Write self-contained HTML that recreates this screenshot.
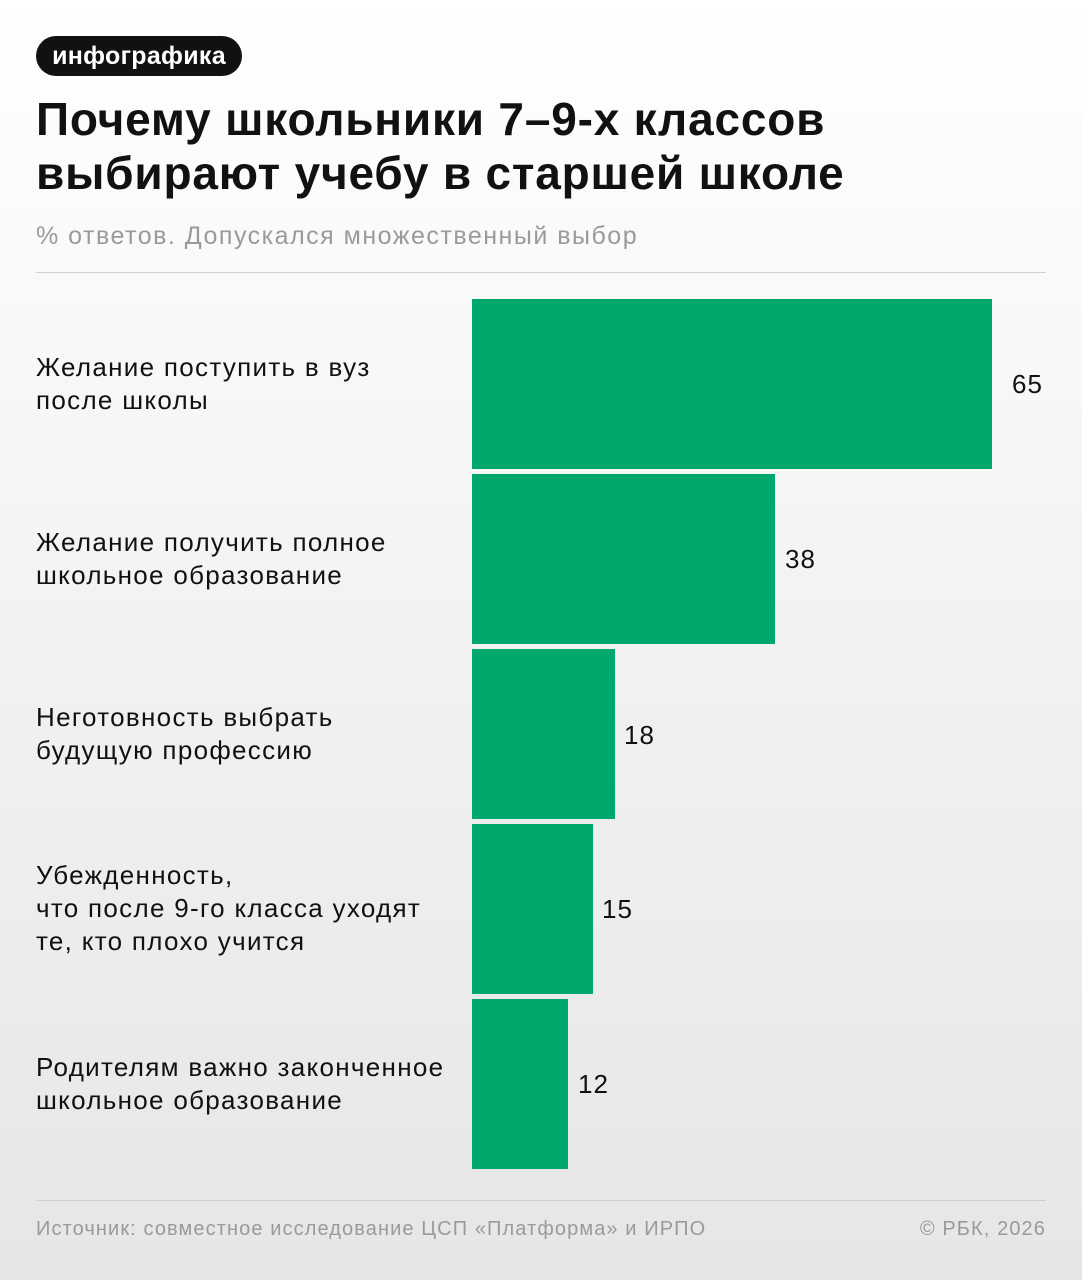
<!DOCTYPE html>
<html><head><meta charset="utf-8"><style>
body{margin:0;width:1082px;height:1280px;overflow:hidden;background:linear-gradient(#ffffff 0%,#f2f2f2 50%,#e6e6e6 100%);font-family:"Liberation Sans","DejaVu Sans",sans-serif;position:relative;color:#111}
.a{position:absolute;white-space:nowrap}
.badge{left:36px;top:36px;width:206px;height:40px;background:#111;border-radius:20px;color:#fff;font-size:25px;font-weight:bold;line-height:40px;text-align:center;letter-spacing:0.3px}
.title{left:36px;top:92px;font-size:46px;font-weight:bold;line-height:54px;letter-spacing:0.8px}
.sub{left:36px;top:222px;font-size:25px;color:#9a9a9a;letter-spacing:1.5px}
.line{left:36px;width:1010px;height:1px;background:#d0d0d0}
.bar{left:472px;height:170px;background:#00a86b}
.lab{left:36px;font-size:26px;line-height:33px;letter-spacing:1.3px}
.val{font-size:26px;line-height:30px;letter-spacing:1px}
.foot{top:1218px;font-size:20px;color:#9a9a9a;letter-spacing:1.1px}
</style></head><body>
<div class="a badge">инфографика</div>
<div class="a title">Почему школьники 7–9-х классов<br>выбирают учебу в старшей школе</div>
<div class="a sub">% ответов. Допускался множественный выбор</div>
<div class="a line" style="top:272px"></div>

<div class="a bar" style="top:299px;width:520px"></div>
<div class="a bar" style="top:474px;width:303px"></div>
<div class="a bar" style="top:649px;width:143px"></div>
<div class="a bar" style="top:824px;width:121px"></div>
<div class="a bar" style="top:999px;width:96px"></div>

<div class="a val" style="left:1012px;top:369px">65</div>
<div class="a val" style="left:785px;top:544px">38</div>
<div class="a val" style="left:624px;top:720px">18</div>
<div class="a val" style="left:602px;top:894px">15</div>
<div class="a val" style="left:578px;top:1069px">12</div>

<div class="a lab" style="top:351px">Желание поступить в вуз<br>после школы</div>
<div class="a lab" style="top:526px">Желание получить полное<br>школьное образование</div>
<div class="a lab" style="top:701px">Неготовность выбрать<br>будущую профессию</div>
<div class="a lab" style="top:859px">Убежденность,<br>что после 9-го класса уходят<br>те, кто плохо учится</div>
<div class="a lab" style="top:1051px">Родителям важно законченное<br>школьное образование</div>

<div class="a line" style="top:1200px"></div>
<div class="a foot" style="left:36px">Источник: совместное исследование ЦСП «Платформа» и ИРПО</div>
<div class="a foot" style="right:36px">© РБК, 2026</div>
</body></html>
